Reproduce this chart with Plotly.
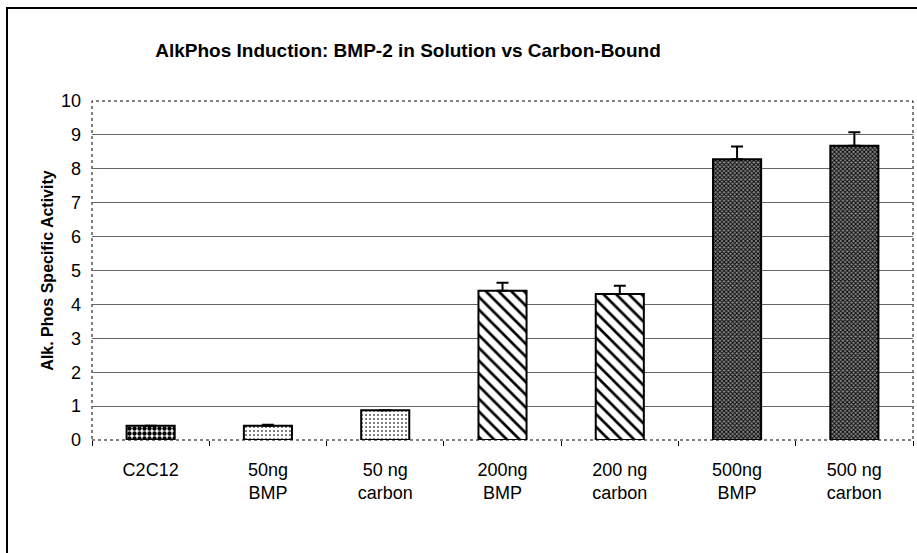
import plotly.graph_objects as go

categories = ["C2C12", "50ng<br>BMP", "50 ng<br>carbon", "200ng<br>BMP", "200 ng<br>carbon", "500ng<br>BMP", "500 ng<br>carbon"]
values = [0.42, 0.42, 0.88, 4.40, 4.31, 8.28, 8.68]
errors = [0.0, 0.03, 0.0, 0.24, 0.24, 0.38, 0.40]
y_ticks = list(range(0, 11))

pattern_shapes = [".", ".", ".", "\\", "\\", "x", "x"]
pattern_fg = ["#000000", "#555555", "#555555", "#000000", "#000000", "#000000", "#000000"]
pattern_bg = ["#ffffff", "#ffffff", "#ffffff", "#ffffff", "#ffffff", "#8a8a8a", "#8a8a8a"]
pattern_size = [5, 4, 4, 9, 9, 3, 3]
pattern_solid = [0.6, 0.2, 0.2, 0.3, 0.3, 0.5, 0.5]

fig = go.Figure()
fig.add_trace(go.Bar(
    x=categories,
    y=values,
    width=0.41,
    marker=dict(
        color="white",
        line=dict(color="black", width=2),
        pattern=dict(shape=pattern_shapes, fgcolor=pattern_fg, bgcolor=pattern_bg,
                     size=pattern_size, solidity=pattern_solid, fillmode="replace"),
    ),
    error_y=dict(type="data", symmetric=False, array=errors, arrayminus=[0] * len(errors),
                 color="black", thickness=2, width=6),
    showlegend=False,
))

L, R, T, B = 92, 4, 101, 113
W, H = 917, 553
pw, ph = W - L - R, H - T - B

fig.update_layout(
    width=W, height=H,
    margin=dict(l=L, r=R, t=T, b=B, autoexpand=False),
    paper_bgcolor="white", plot_bgcolor="white",
    font=dict(family="Liberation Sans, Arial, sans-serif", color="black"),
    title=dict(text="<b>AlkPhos Induction: BMP-2 in Solution vs Carbon-Bound</b>",
               x=408 / W, xanchor="center", y=1 - 50 / H, yanchor="middle",
               font=dict(size=19)),
    bargap=0.59,
    shapes=[
        dict(type="rect", xref="paper", yref="paper", x0=0, x1=1, y0=0, y1=1,
             line=dict(color="black", width=1, dash="dot"), layer="below"),
        dict(type="rect", xref="paper", yref="paper",
             x0=(7 - L) / pw, x1=1.5, y0=-1, y1=(440 - 8) / ph,
             line=dict(color="black", width=2), fillcolor="rgba(0,0,0,0)"),
    ],
)
fig.update_xaxes(
    automargin=False,
    tickson="boundaries", ticks="outside", ticklen=5, tickcolor="black", tickwidth=1,
    tickfont=dict(size=18), showgrid=False, showline=False, ticklabelstandoff=17,
)
fig.update_yaxes(
    automargin=False,
    range=[0, 10], tickvals=y_ticks, showgrid=True, gridcolor="#666666", gridwidth=1,
    zeroline=False, showline=False, ticks="", tickfont=dict(size=18), ticklabelstandoff=10,
    title=dict(text="<b>Alk. Phos Specific Activity</b>", font=dict(size=16), standoff=3),
)

fig.write_html("out.html", config={"displayModeBar": False},
               post_script="document.body.style.margin='0';document.body.style.overflow='hidden';")
